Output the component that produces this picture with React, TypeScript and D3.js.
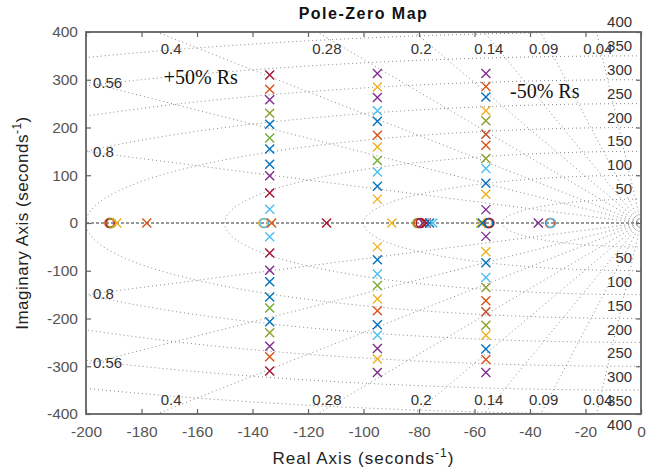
import React, { useRef, useEffect } from 'react';
import * as d3 from 'd3';

const W = 666;
const H = 471;
const margin = { top: 32, right: 25, bottom: 57, left: 86 };

// axis ticks
const xTicks = d3.range(-200, 1, 20);
const yTicks = d3.range(-400, 401, 100);

// grid values (damping ratios and natural frequencies)
const dampingValues = [0.04, 0.09, 0.14, 0.2, 0.28, 0.4, 0.56, 0.8];
const freqValues = [50, 100, 150, 200, 250, 300, 350, 400];

const palette: Record<string, string> = {
  b: '#0072BD', o: '#D95319', y: '#EDB120', p: '#7E2F8E',
  g: '#77AC30', lb: '#4DBEEE', dr: '#A2142F', ol: '#8E9E2A', br: '#C04A26'
};

// complex pole pairs, three columns (imag part shown for upper half, mirrored)
const colAReal = -133.8;
const colAImag = [310, 280, 258, 230, 207, 178, 155, 123, 99, 63, 29];
const colAColor = ['dr', 'o', 'p', 'ol', 'b', 'g', 'b', 'b', 'p', 'dr', 'lb'];

const colBReal = -95;
const colBImag = [313, 285, 263, 235, 213, 184, 159, 131, 107, 77, 50];
const colBColor = ['p', 'y', 'p', 'lb', 'b', 'o', 'y', 'g', 'lb', 'b', 'y'];

const colCReal = -55.9;
const colCImag = [313, 286, 264, 235, 214, 186, 163, 135, 114, 83, 60, 28];
const colCColor = ['p', 'o', 'b', 'y', 'ol', 'br', 'o', 'ol', 'lb', 'b', 'y', 'p'];

// real-axis poles and zeros
const realPoles = [-188.9, -178.1, -133.1, -113.3, -89.8, -78.6, -77.4, -76.2, -75, -57.8, -57.2, -37];
const realPoleColor = ['y', 'o', 'o', 'dr', 'y', 'p', 'dr', 'b', 'lb', 'y', 'b', 'p'];
const realZeros = [-191.6, -191.2, -190.8, -136.1, -135.7, -80.6, -80.1, -79.4, -55.4, -55, -54.6, -32.8, -32.4];
const realZeroColor = ['o', 'dr', 'ol', 'y', 'lb', 'g', 'o', 'dr', 'y', 'b', 'dr', 'o', 'lb'];

const PoleZeroMap = () => {
  const svgRef = useRef<SVGSVGElement>(null);

  useEffect(() => {
    const svg = d3.select(svgRef.current);
    svg.selectAll('*').remove();

    const innerW = W - margin.left - margin.right;
    const innerH = H - margin.top - margin.bottom;
    const x = d3.scaleLinear().domain([-200, 0]).range([margin.left, margin.left + innerW]);
    const y = d3.scaleLinear().domain([-400, 400]).range([margin.top + innerH, margin.top]);

    const font = '"Liberation Sans", Arial, sans-serif';

    svg.append('rect').attr('width', W).attr('height', H).attr('fill', '#fff');

    svg.append('defs').append('clipPath').attr('id', 'plotclip')
      .append('rect')
      .attr('x', margin.left).attr('y', margin.top)
      .attr('width', innerW).attr('height', innerH);

    const grid = svg.append('g').attr('clip-path', 'url(#plotclip)');
    const gridStroke = '#8a8a8a';

    // damping rays
    dampingValues.forEach(z => {
      const k = Math.sqrt(1 - z * z) / z;
      [1, -1].forEach(s => {
        grid.append('line')
          .attr('x1', x(0)).attr('y1', y(0))
          .attr('x2', x(-1000)).attr('y2', y(s * 1000 * k))
          .attr('stroke', gridStroke)
          .attr('stroke-width', 1)
          .attr('stroke-dasharray', '1,3');
      });
    });

    // natural frequency arcs
    const arc = d3.line<number>();
    freqValues.forEach(w => {
      const pts = d3.range(0, 241).map(i => {
        const t = Math.PI / 2 + (Math.PI * i) / 240;
        return [x(w * Math.cos(t)), y(w * Math.sin(t))] as [number, number];
      });
      grid.append('path')
        .attr('d', arc(pts as any))
        .attr('fill', 'none')
        .attr('stroke', gridStroke)
        .attr('stroke-width', 1)
        .attr('stroke-dasharray', '1,3');
    });

    // real axis
    grid.append('line')
      .attr('x1', x(-200)).attr('y1', y(0))
      .attr('x2', x(0)).attr('y2', y(0))
      .attr('stroke', '#777')
      .attr('stroke-width', 1.3)
      .attr('stroke-dasharray', '3,2');

    // damping labels
    const lab = svg.append('g')
      .attr('font-family', font)
      .attr('font-size', 15)
      .attr('fill', '#333');
    dampingValues.forEach(z => {
      const k = Math.sqrt(1 - z * z) / z;
      const xt = -388 / k;
      if (xt > -197.5) {
        lab.append('text').attr('x', x(xt)).attr('y', y(388) + 16)
          .attr('text-anchor', 'middle').text(String(z));
        lab.append('text').attr('x', x(xt)).attr('y', y(-388) - 3)
          .attr('text-anchor', 'middle').text(String(z));
      } else {
        lab.append('text').attr('x', x(-197.5)).attr('y', y(197.5 * k) + 5)
          .text(String(z));
        lab.append('text').attr('x', x(-197.5)).attr('y', y(-197.5 * k) + 5)
          .text(String(z));
      }
    });

    // frequency labels
    freqValues.forEach(w => {
      lab.append('text').attr('x', x(-3.2)).attr('y', y(w) - 5)
        .attr('text-anchor', 'end').text(String(w));
      lab.append('text').attr('x', x(-3.2)).attr('y', y(-w) + 16)
        .attr('text-anchor', 'end').text(String(w));
    });

    // markers
    const marks = svg.append('g').attr('fill', 'none').attr('stroke-width', 1.4);
    const r = 4.5;
    const cross = `M${-r},${-r}L${r},${r}M${-r},${r}L${r},${-r}`;
    const drawX = (re: number, im: number, c: string) => {
      marks.append('path')
        .attr('d', cross)
        .attr('transform', `translate(${x(re)},${y(im)})`)
        .attr('stroke', palette[c]);
    };
    const drawO = (re: number, im: number, c: string) => {
      marks.append('circle')
        .attr('cx', x(re)).attr('cy', y(im)).attr('r', r)
        .attr('stroke', palette[c]);
    };

    realZeros.forEach((v, i) => drawO(v, 0, realZeroColor[i]));
    [[colAReal, colAImag, colAColor], [colBReal, colBImag, colBColor], [colCReal, colCImag, colCColor]]
      .forEach(([re, ims, cols]: any) => {
        ims.forEach((im: number, i: number) => {
          drawX(re, im, cols[i]);
          drawX(re, -im, cols[i]);
        });
      });
    realPoles.forEach((v, i) => drawX(v, 0, realPoleColor[i]));

    // annotations
    svg.append('text')
      .attr('x', x(-172)).attr('y', y(291))
      .attr('font-family', '"Liberation Serif", "Times New Roman", serif')
      .attr('font-size', 20).attr('fill', '#111')
      .text('+50% Rs');
    svg.append('text')
      .attr('x', x(-47.2)).attr('y', y(262))
      .attr('font-family', '"Liberation Serif", "Times New Roman", serif')
      .attr('font-size', 20).attr('fill', '#111')
      .text('-50% Rs');

    // axes
    const axisColor = '#636363';
    const bottom = svg.append('g')
      .attr('transform', `translate(0,${margin.top + innerH})`)
      .call(d3.axisBottom(x).tickValues(xTicks).tickSize(-5).tickPadding(12).tickFormat(d3.format('d')));
    const left = svg.append('g')
      .attr('transform', `translate(${margin.left},0)`)
      .call(d3.axisLeft(y).tickValues(yTicks).tickSize(-5).tickPadding(8).tickFormat(d3.format('d')));
    const top = svg.append('g')
      .attr('transform', `translate(0,${margin.top})`)
      .call(d3.axisTop(x).tickValues(xTicks).tickSize(-5).tickFormat(() => ''));
    const right = svg.append('g')
      .attr('transform', `translate(${margin.left + innerW},0)`)
      .call(d3.axisRight(y).tickValues(yTicks).tickSize(-5).tickFormat(() => ''));
    [bottom, left, top, right].forEach(g => {
      g.select('.domain').remove();
      g.selectAll('line').attr('stroke', axisColor).attr('stroke-width', 1.2);
      g.selectAll('text')
        .attr('font-family', font)
        .attr('font-size', 15.5)
        .attr('fill', '#555')
        .text(function () { return (d3.select(this).text() || '').replace('−', '-'); });
    });

    svg.append('rect')
      .attr('x', margin.left).attr('y', margin.top)
      .attr('width', innerW).attr('height', innerH)
      .attr('fill', 'none')
      .attr('stroke', axisColor)
      .attr('stroke-width', 1.8);

    // title
    svg.append('text')
      .attr('x', x(-100)).attr('y', 19)
      .attr('text-anchor', 'middle')
      .attr('font-family', font)
      .attr('font-weight', 'bold')
      .attr('font-size', 16)
      .attr('letter-spacing', 1.5)
      .attr('fill', '#111')
      .text('Pole-Zero Map');

    // axis labels
    const xl = svg.append('text')
      .attr('x', x(-100)).attr('y', 464)
      .attr('text-anchor', 'middle')
      .attr('font-family', font)
      .attr('font-size', 17)
      .attr('letter-spacing', 1)
      .attr('fill', '#222');
    xl.append('tspan').text('Real Axis (seconds');
    xl.append('tspan').attr('dy', -7).attr('font-size', 12).text('-1');
    xl.append('tspan').attr('dy', 7).text(')');

    const yl = svg.append('text')
      .attr('transform', `translate(28,${y(0)}) rotate(-90)`)
      .attr('text-anchor', 'middle')
      .attr('font-family', font)
      .attr('font-size', 17)
      .attr('letter-spacing', 0.5)
      .attr('fill', '#222');
    yl.append('tspan').text('Imaginary Axis (seconds');
    yl.append('tspan').attr('dy', -7).attr('font-size', 12).text('-1');
    yl.append('tspan').attr('dy', 7).text(')');
  }, []);

  return (
    <svg ref={svgRef} width={W} height={H}
      style={{ position: 'absolute', left: 0, top: 0 }} />
  );
};

export default function App() {
  return <PoleZeroMap />;
}
